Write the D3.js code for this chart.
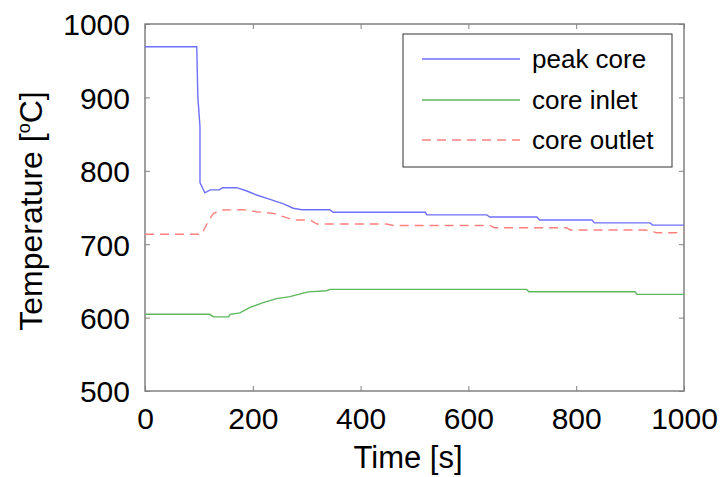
<!DOCTYPE html>
<html><head><meta charset="utf-8">
<script src="https://cdn.jsdelivr.net/npm/d3@7"></script>
<style>body{margin:0;background:#fff}svg{display:block}text{font-family:"Liberation Sans",Arial,sans-serif;fill:#000}</style>
</head><body><svg id="c" width="720" height="477"></svg>
<script>
const xTicks = [0,200,400,600,800,1000];
const yTicks = [500,600,700,800,900,1000];
const seriesNames = ["peak core","core inlet","core outlet"];
const peakT = [0,96,98,102,102,111,121,138,144,170,189,207,232,257,275,291,343,349,520,523,634,640,727,732,829,834,937,942,1000];
const peakV = [969,969,901,860,784,770,774,774,777,777,772.5,767,761,755,749,747,747,743.5,743.5,740,740,737,737,733,733,729,729,726,726];
const inletT = [0,120,127,155,158,176,195,219,244,269,281,303,337,343,708,712,909,913,1000];
const inletV = [604.5,604.5,601,601,604.5,606.5,614,620.5,625.8,628.5,631,635,636.6,638.5,638.5,635.3,635.3,631.7,631.7];
const outletT = [0,105,117,127,145,182,207,238,257,275,306,319,448,461,640,648,782,789,928,950,1000];
const outletV = [713.5,713.5,730.7,742,746.6,747,744.3,742,737.5,733,733,727.5,727.5,725.5,725.5,722.5,722.5,719.4,719.4,715.7,715.7];

const svg = d3.select("#c");
const L=145,R=684,T=24,B=391;
const x = d3.scaleLinear().domain([0,1000]).range([L,R]);
const y = d3.scaleLinear().domain([500,1000]).range([B,T]);
const frame="#808080";

const fs=30;
const ax = svg.append("g").attr("transform",`translate(0,${B})`)
  .call(d3.axisBottom(x).tickValues(xTicks).tickSize(-5).tickPadding(16).tickFormat(d3.format("d")));
const axT = svg.append("g").attr("transform",`translate(0,${T})`)
  .call(d3.axisTop(x).tickValues(xTicks).tickSize(-5).tickFormat(""));
const ay = svg.append("g").attr("transform",`translate(${L},0)`)
  .call(d3.axisLeft(y).tickValues(yTicks).tickSize(-5).tickPadding(15).tickFormat(d3.format("d")));
const ayR = svg.append("g").attr("transform",`translate(${R},0)`)
  .call(d3.axisRight(y).tickValues(yTicks).tickSize(-5).tickFormat(""));
[ax,axT,ay,ayR].forEach(g=>{
  g.select(".domain").remove();
  g.selectAll(".tick line").attr("stroke",frame).attr("stroke-width",1);
  g.selectAll("text").attr("font-size",fs).attr("fill","#000").attr("font-family",'"Liberation Sans",Arial,sans-serif');
});
ay.selectAll("text").attr("dy","0.36em");
ax.selectAll("text").attr("dy","0.72em");

svg.append("rect").attr("x",L).attr("y",T).attr("width",R-L).attr("height",B-T)
  .attr("fill","none").attr("stroke",frame).attr("stroke-width",1.5);

const line = d3.line().x(d=>x(d[0])).y(d=>y(d[1]));
const mk=(ts,vs)=>ts.map((t,i)=>[t,vs[i]]);
const styles=[
  {c:"#6f6fff",d:null,data:mk(peakT,peakV)},
  {c:"#5cb85c",d:null,data:mk(inletT,inletV)},
  {c:"#ff7f7f",d:"9,6",data:mk(outletT,outletV)}
];
styles.forEach(s=>{
  svg.append("path").attr("d",line(s.data)).attr("fill","none")
    .attr("stroke",s.c).attr("stroke-width",1.4).attr("stroke-dasharray",s.d);
});

const lg = svg.append("g");
lg.append("rect").attr("x",403).attr("y",34).attr("width",269).attr("height",133)
  .attr("fill","#fff").attr("stroke","#333").attr("stroke-width",1);
const rows=[59,100,140];
seriesNames.forEach((n,i)=>{
  lg.append("line").attr("x1",422).attr("x2",520).attr("y1",rows[i]).attr("y2",rows[i])
    .attr("stroke",styles[i].c).attr("stroke-width",1.4).attr("stroke-dasharray",styles[i].d);
  lg.append("text").attr("x",532).attr("y",rows[i]).attr("dy","0.35em").attr("font-size",26).text(n);
});

svg.append("text").attr("x",408).attr("y",468).attr("text-anchor","middle").attr("font-size",31).text("Time [s]");
const yl = svg.append("text").attr("transform","translate(42,211) rotate(-90)").attr("text-anchor","middle").attr("font-size",32);
yl.append("tspan").text("Temperature [");
yl.append("tspan").attr("font-size",18).attr("dy",-12).text("o");
yl.append("tspan").attr("dy",12).text("C]");
</script></body></html>
